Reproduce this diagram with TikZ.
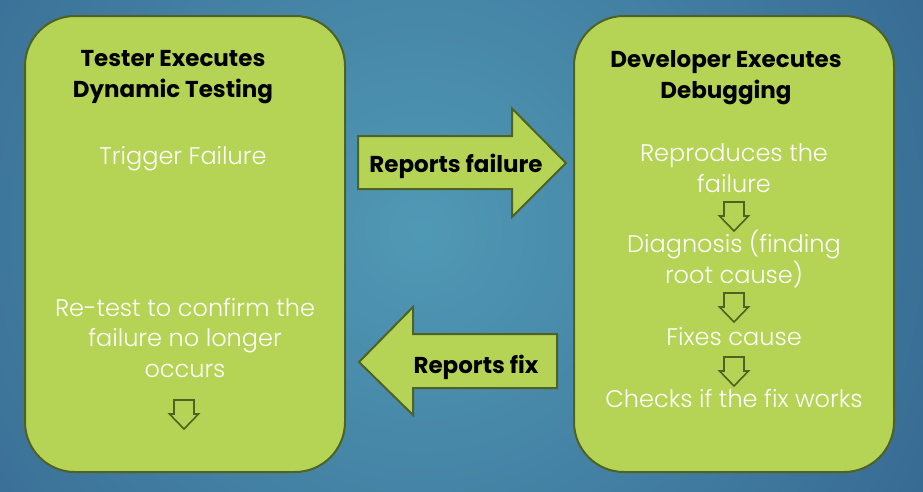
\documentclass[tikz,border=0pt]{standalone}
\usepackage{fontspec}
\setmainfont{Poppins}
\newfontfamily\lightfont{Poppins}[UprightFont = * Light]
\usepackage{xcolor}
\usetikzlibrary{calc}

\definecolor{bglight}{HTML}{5099B5}
\definecolor{bgdark}{HTML}{213F73}
\definecolor{boxgreen}{HTML}{B5D455}
\definecolor{boxline}{HTML}{4F6222}

\newcommand{\dnarrow}[1]{\draw[smallarrow] (#1) ++(-10,0) -- ++(20,0) -- ++(0,14) -- ++(4.5,0) -- ++(-14.5,15) -- ++(-14.5,-15) -- ++(4.5,0) -- cycle;}

\begin{document}
\begin{tikzpicture}[x=1pt, y=-1pt,
		box/.style = {draw = boxline, line width = 2pt, fill = boxgreen, rounded corners = 50pt, minimum width = 320pt, minimum height = 456pt},
		bigarrow/.style = {draw = boxline, line width = 2pt, fill = boxgreen, line join = miter},
		smallarrow/.style = {draw = boxline, line width = 1.6pt, fill = boxgreen, line join = miter},
		headtext/.style = {anchor = base, align = center, inner sep = 0pt, font = \fontsize{23}{31}\selectfont\bfseries},
		steptext/.style = {anchor = base, align = center, inner sep = 0pt, text = white, font = \fontsize{24}{30.5}\selectfont\lightfont}]
		\def\W{923};
		\def\H{491};
		
		\useasboundingbox (0,0) rectangle (\W,\H);
		\begin{scope}
			\clip (0,0) rectangle (\W,\H);
			\fill[bgdark] (0,0) rectangle (\W,\H);
			\shade[inner color = bglight, outer color = bgdark] (420,230) circle [radius = 1100];
		\end{scope}
		
		\node[box] (tester) at (185,244) {};
		\node[box] (developer) at (734,244) {};
		
		\coordinate (tip fail) at (566,163);
		\coordinate (tip fix) at (359,362);
		
		\draw[bigarrow] (tip fail) -- ++(-54,54) -- ++(0,-28) -- ++(-154,0) -- ++(0,-53) -- ++(154,0) -- ++(0,-27.5) -- cycle;
		\draw[bigarrow] (tip fix) -- ++(54,-55) -- ++(0,27) -- ++(144,0) -- ++(0,54) -- ++(-144,0) -- ++(0,27) -- cycle;
		
		\node[headtext] (fail label) at (456,172) {Reports failure};
		\node[headtext] (fix label) at (476,373) {Reports fix};
		
		\node[headtext] (tester head) at (173,97) {Tester Executes\\Dynamic Testing};
		\node[steptext] (trigger) at (183,164) {Trigger Failure};
		\node[steptext] (retest) at (185,377) {Re-test to confirm the\\failure no longer\\occurs};
		
		\node[headtext] (developer head) at (726,98) {Developer Executes\\Debugging};
		\node[steptext] (reproduce) at (734,192) {Reproduces the\\failure};
		\node[steptext] (diagnosis) at (734,283) {Diagnosis (finding\\root cause)};
		\node[steptext] (fixes) at (734,345) {Fixes cause};
		\node[steptext] (checks) at (734,407) {Checks if the fix works};
		
		\coordinate (step A) at (734,202);
		\coordinate (step B) at (734,293);
		\coordinate (step C) at (734,357);
		\coordinate (step D) at (184,400);
		
		\foreach \s in {A, B, C, D}
			\dnarrow{step \s};
	\end{tikzpicture}
\end{document}
